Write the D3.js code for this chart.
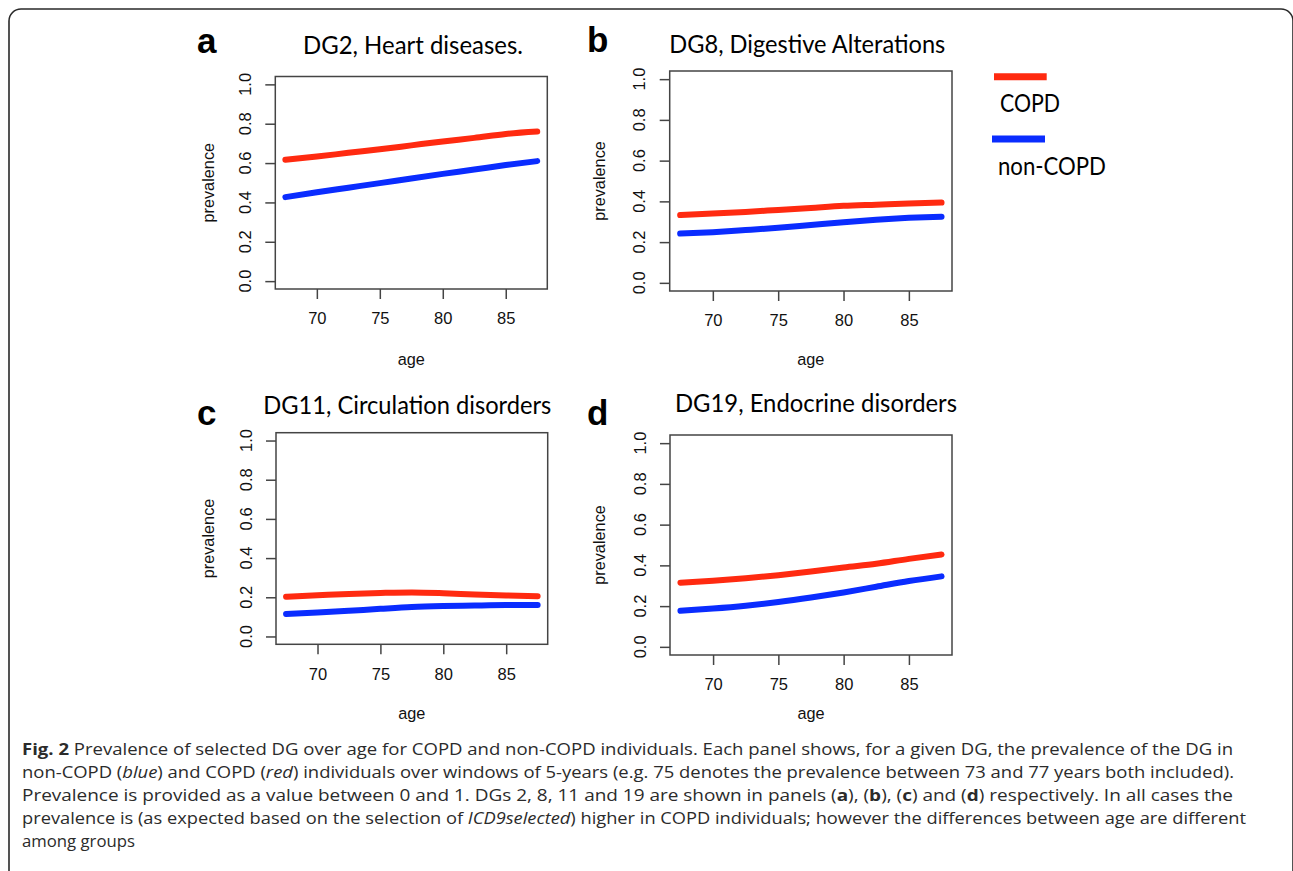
<!DOCTYPE html>
<html>
<head>
<meta charset="utf-8">
<script src="https://cdn.jsdelivr.net/npm/d3@7"></script>
<style>
  body { margin: 0; background: #fff; }
  svg { display: block; }
</style>
</head>
<body>
<script>
// prevalence by age window
var ages = [67.5, 70, 72.5, 75, 77.5, 80, 82.5, 85, 87.5];

var copdA    = [0.617, 0.633, 0.652, 0.670, 0.690, 0.710, 0.728, 0.748, 0.760];
var nonCopdA = [0.427, 0.452, 0.475, 0.498, 0.522, 0.545, 0.567, 0.590, 0.610];

var copdB    = [0.333, 0.340, 0.348, 0.358, 0.368, 0.378, 0.384, 0.390, 0.394];
var nonCopdB = [0.242, 0.249, 0.259, 0.270, 0.284, 0.298, 0.310, 0.319, 0.325];

var copdC    = [0.203, 0.210, 0.217, 0.222, 0.225, 0.221, 0.214, 0.209, 0.205];
var nonCopdC = [0.115, 0.122, 0.131, 0.141, 0.150, 0.155, 0.158, 0.160, 0.160];

var copdD    = [0.315, 0.325, 0.337, 0.352, 0.370, 0.390, 0.408, 0.432, 0.453];
var nonCopdD = [0.177, 0.188, 0.202, 0.220, 0.242, 0.267, 0.295, 0.323, 0.346];

var panelLetters = ["a", "b", "c", "d"];
var panelTitles = ["DG2, Heart diseases.", "DG8, Digestive Alterations",
                   "DG11, Circulation disorders", "DG19, Endocrine disorders"];
var xTicks = [70, 75, 80, 85];
var yTicks = [0, 0.2, 0.4, 0.6, 0.8, 1.0];
var seriesNames = ["COPD", "non-COPD"];

var width = 1293, height = 871;
var red = "#ff2a10", blue = "#0a2cff";
var rFont = "'Liberation Sans', Arial, sans-serif";
var cFont = "Lato, 'Open Sans', sans-serif";
var tickSize = 16.5, labSize = 16.3;

var svg = d3.select("body").append("svg")
    .attr("width", width)
    .attr("height", height);

svg.append("rect").attr("width", width).attr("height", height).attr("fill", "#fff");

// page frame with rounded top corners
svg.append("path")
    .attr("d", "M9,875 V21 A12,12 0 0 1 21,9 H1281 A12,12 0 0 1 1293,21 V875")
    .attr("fill", "none")
    .attr("stroke", "#2a2a2a")
    .attr("stroke-width", 1.6);

var panels = [
  {box: [275.3, 547.3, 76.5, 289], copd: copdA, non: nonCopdA,
   letter: [197, 53], title: [303, 54.3, 220], ageY: 359},
  {box: [669.7, 952, 71, 291], copd: copdB, non: nonCopdB,
   letter: [587, 52], title: [669.3, 53.3, 276], ageY: 359},
  {box: [276, 547.7, 432.7, 644.3], copd: copdC, non: nonCopdC,
   letter: [197, 425], title: [263.3, 414, 288], ageY: 713},
  {box: [670, 952, 435, 655], copd: copdD, non: nonCopdD,
   letter: [587, 425], title: [675, 411.7, 282], ageY: 713}
];

panels.forEach(function(p, i) {
  var left = p.box[0], right = p.box[1], top = p.box[2], bottom = p.box[3];

  var x = d3.scaleLinear().domain([66.7, 88.3]).range([left, right]);
  var y = d3.scaleLinear().domain([-0.04, 1.04]).range([bottom, top]);

  var g = svg.append("g");

  // x axis
  var xa = g.append("g")
      .attr("transform", "translate(0," + bottom + ")")
      .call(d3.axisBottom(x).tickValues(xTicks).tickSize(10).tickPadding(13.5));
  xa.select(".domain").remove();
  xa.selectAll("line").attr("stroke", "#444").attr("stroke-width", 1.5);
  xa.selectAll("text").attr("font-family", rFont).attr("font-size", tickSize).attr("fill", "#111");

  // y axis, labels rotated like base R
  var ya = g.append("g")
      .attr("transform", "translate(" + left + ",0)")
      .call(d3.axisLeft(y).tickValues(yTicks).tickSize(10).tickFormat(""));
  ya.select(".domain").remove();
  ya.selectAll("line").attr("stroke", "#444").attr("stroke-width", 1.5);

  g.selectAll(".ylab")
    .data(yTicks)
    .enter().append("text")
      .attr("class", "ylab")
      .attr("transform", function(d) { return "translate(" + (left - 30) + "," + y(d) + ") rotate(-90)"; })
      .attr("dy", "0.35em")
      .attr("text-anchor", "middle")
      .attr("font-family", rFont)
      .attr("font-size", tickSize)
      .attr("fill", "#111")
      .text(d3.format(".1f"));

  // box
  g.append("rect")
      .attr("x", left).attr("y", top)
      .attr("width", right - left).attr("height", bottom - top)
      .attr("fill", "none")
      .attr("stroke", "#444")
      .attr("stroke-width", 1.5);

  var line = d3.line()
      .x(function(d, j) { return x(ages[j]); })
      .y(function(d) { return y(d); })
      .curve(d3.curveMonotoneX);

  g.append("path").datum(p.non)
      .attr("d", line)
      .attr("fill", "none").attr("stroke", blue)
      .attr("stroke-width", 6).attr("stroke-linecap", "round");

  g.append("path").datum(p.copd)
      .attr("d", line)
      .attr("fill", "none").attr("stroke", red)
      .attr("stroke-width", 6).attr("stroke-linecap", "round");

  // axis titles
  g.append("text")
      .attr("x", (left + right) / 2).attr("y", p.ageY)
      .attr("dy", "0.35em")
      .attr("text-anchor", "middle")
      .attr("font-family", rFont).attr("font-size", labSize).attr("fill", "#111")
      .text("age");

  var px = (i % 2 == 0) ? left - 67.5 : left - 70.7;
  g.append("text")
      .attr("transform", "translate(" + px + "," + ((top + bottom) / 2) + ") rotate(-90)")
      .attr("dy", "0.35em")
      .attr("text-anchor", "middle")
      .attr("font-family", rFont).attr("font-size", labSize).attr("fill", "#111")
      .text("prevalence");

  // panel letter + title
  g.append("text")
      .attr("x", p.letter[0]).attr("y", p.letter[1])
      .attr("font-family", rFont).attr("font-weight", "bold")
      .attr("font-size", 35).attr("fill", "#000")
      .text(panelLetters[i]);

  g.append("text")
      .attr("x", p.title[0]).attr("y", p.title[1])
      .attr("font-family", cFont).attr("font-size", 24.5).attr("fill", "#000")
      .attr("textLength", p.title[2]).attr("lengthAdjust", "spacingAndGlyphs")
      .text(panelTitles[i]);
});

// legend
var legend = [
  {name: seriesNames[0], color: red, x1: 994, x2: 1046.7, ly: 76.7, tx: 1000, ty: 111.7, w: 60},
  {name: seriesNames[1], color: blue, x1: 992, x2: 1045, ly: 139, tx: 998, ty: 175, w: 108}
];
legend.forEach(function(l) {
  svg.append("line")
      .attr("x1", l.x1).attr("x2", l.x2).attr("y1", l.ly).attr("y2", l.ly)
      .attr("stroke", l.color).attr("stroke-width", 7);
  svg.append("text")
      .attr("x", l.tx).attr("y", l.ty)
      .attr("font-family", cFont).attr("font-size", 24.5).attr("fill", "#000")
      .attr("textLength", l.w).attr("lengthAdjust", "spacingAndGlyphs")
      .text(l.name);
});

// caption
var caption = [
  {y: 755, w: 1211, parts: [["b", "Fig. 2"], ["", " Prevalence of selected DG over age for COPD and non-COPD individuals. Each panel shows, for a given DG, the prevalence of the DG in"]]},
  {y: 778, w: 1212, parts: [["", "non-COPD ("], ["i", "blue"], ["", ") and COPD ("], ["i", "red"], ["", ") individuals over windows of 5-years (e.g. 75 denotes the prevalence between 73 and 77 years both included)."]]},
  {y: 801, w: 1211, parts: [["", "Prevalence is provided as a value between 0 and 1. DGs 2, 8, 11 and 19 are shown in panels ("], ["b", "a"], ["", "), ("], ["b", "b"], ["", "), ("], ["b", "c"], ["", ") and ("], ["b", "d"], ["", ") respectively. In all cases the"]]},
  {y: 824, w: 1224, parts: [["", "prevalence is (as expected based on the selection of "], ["i", "ICD9selected"], ["", ") higher in COPD individuals; however the differences between age are different"]]},
  {y: 847, w: 113, parts: [["", "among groups"]]}
];

caption.forEach(function(c) {
  var t = svg.append("text")
      .attr("x", 22).attr("y", c.y)
      .attr("font-family", "'Open Sans', 'Noto Sans', sans-serif")
      .attr("font-size", 16.5)
      .attr("fill", "#2b2b2b")
      .attr("textLength", c.w)
      .attr("lengthAdjust", "spacingAndGlyphs");
  c.parts.forEach(function(pt) {
    var s = t.append("tspan").text(pt[1]);
    if (pt[0] == "b") s.attr("font-weight", "bold");
    if (pt[0] == "i") s.attr("font-style", "italic");
  });
});
</script>
</body>
</html>
